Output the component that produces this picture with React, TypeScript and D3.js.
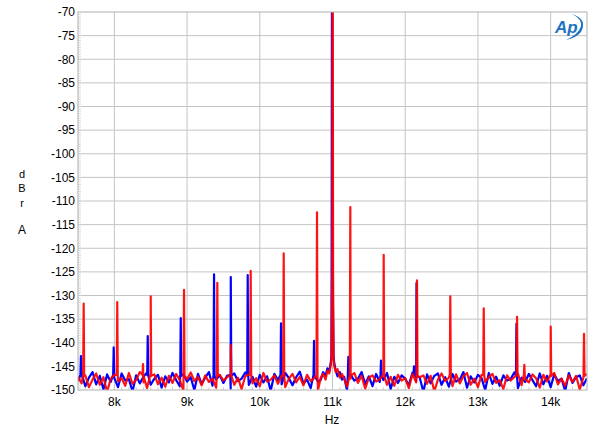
import React from "react";
import * as d3 from "d3";

// ---- data ----
const xTickValues = [8000, 9000, 10000, 11000, 12000, 13000, 14000];
const xTickLabels = ["8k", "9k", "10k", "11k", "12k", "13k", "14k"];
const yTickValues = [-70, -75, -80, -85, -90, -95, -100, -105, -110, -115, -120, -125, -130, -135, -140, -145, -150];

// noise floor, 50 Hz bins from 7500 Hz
const noiseStart = 7500;
const noiseStep = 50;
const redNoise = [
  -147.2,-148.6,-146.9,-149.4,-147.8,-146.5,-148.9,-147.3,-150.4,-147.6,
  -146.8,-148.2,-147.5,-149.1,-146.4,-148.7,-147.9,-146.2,-148.4,-149.6,
  -147.1,-146.7,-148.8,-147.4,-149.3,-147.0,-148.5,-146.6,-147.9,-150.2,
  -147.7,-146.3,-148.1,-147.2,-149.0,-146.9,-148.3,-147.6,-149.5,-146.8,
  -148.0,-147.3,-146.5,-148.9,-147.4,-149.8,-147.1,-146.7,-148.6,-147.5,
  -149.2,-146.4,-148.2,-147.8,-146.9,-148.7,-147.0,-149.4,-147.6,-146.6,
  -148.4,-147.2,-149.0,-146.8,-148.1,-147.5,-150.1,-147.3,-146.5,-148.8,
  -147.9,-146.7,-148.3,-147.1,-149.3,-147.6,-146.4,-148.5,-147.0,-149.7,
  -147.4,-146.9,-148.2,-147.7,-146.3,-148.9,-147.2,-149.1,-146.8,-148.0,
  -147.5,-149.6,-146.6,-148.4,-147.3,-146.9,-148.7,-147.0,-150.3,-147.8,
  -146.5,-148.1,-147.4,-149.2,-146.7,-148.6,-147.1,-146.4,-148.9,-147.6,
  -149.4,-146.8,-148.3,-147.2,-146.6,-148.5,-147.9,-149.8,-146.9,-148.0,
  -147.3,-146.5,-149.0,-147.7,-148.4,-146.7,-147.5,-149.5,-146.8,-148.2,
  -147.1,-146.4,-148.8,-147.6,-149.1,-146.9,-148.3,-147.0,-149.9,-147.4,
  -146.6,
];
const blueNoise = [
  -148.1,-146.6,-149.2,-147.4,-146.2,-148.8,-147.0,-149.9,-146.7,-148.3,
  -147.5,-149.4,-146.5,-148.0,-147.7,-150.3,-146.9,-148.6,-147.2,-146.3,
  -148.9,-147.6,-146.8,-149.5,-147.1,-148.4,-146.4,-147.9,-149.2,-146.7,
  -148.2,-147.3,-150.0,-146.6,-148.7,-147.4,-146.2,-149.1,-147.8,-146.9,
  -148.5,-147.0,-149.7,-146.5,-148.1,-147.6,-146.3,-148.9,-147.2,-149.3,
  -146.8,-148.4,-147.1,-150.2,-146.6,-147.9,-148.8,-146.4,-147.5,-149.0,
  -147.3,-146.1,-148.6,-147.8,-149.6,-146.7,-148.2,-147.0,-146.5,-149.4,
  -147.7,-148.9,-146.3,-147.4,-150.1,-146.8,-148.0,-147.6,-146.2,-148.7,
  -147.1,-149.2,-146.6,-148.3,-147.9,-146.4,-149.8,-147.2,-148.5,-146.9,
  -147.6,-149.0,-146.3,-148.1,-147.4,-150.4,-146.7,-148.6,-147.0,-146.5,
  -148.9,-147.3,-149.3,-146.6,-148.2,-147.8,-146.2,-149.5,-147.1,-148.4,
  -146.8,-147.5,-150.0,-146.4,-148.7,-147.2,-149.1,-146.9,-148.0,-147.7,
  -146.3,-149.6,-147.4,-148.3,-146.6,-147.9,-149.2,-146.5,-148.8,-147.0,
  -149.4,-146.7,-148.1,-147.6,-150.2,-146.4,-148.5,-147.3,-146.9,-149.0,
  -147.5,
];

// skirt around the 11 kHz fundamental
const skirtFreqs = [10840, 10870, 10905, 10930, 10955, 10975, 10985, 11015, 11025, 11045, 11070, 11100, 11130, 11160];
const redSkirt = [-147.3, -146.6, -147.8, -145.9, -146.5, -144.8, -143.4, -143.6, -145.0, -146.2, -145.6, -147.4, -146.6, -147.6];
const blueSkirt = [-147.8, -146.2, -147.0, -145.4, -146.0, -144.4, -142.8, -143.0, -144.4, -145.9, -147.1, -146.2, -147.8, -147.2];

// harmonic / IMD spikes
const redSpikeFreqs = [7578, 8040, 8394, 8500, 8958, 9416, 9601, 9875, 10329, 10787, 11002, 11245, 11704, 12162, 12620, 13080, 13538, 13638, 14001, 14459];
const redSpikeLevels = [-131.7, -131.4, -144.5, -130.2, -128.8, -127.3, -140.5, -124.8, -121.1, -112.4, -40, -111.3, -121.4, -126.8, -130.2, -132.7, -134.5, -144.7, -136.6, -138.1];
const blueSpikeFreqs = [7541, 7991, 8459, 8913, 9371, 9601, 9834, 10292, 10746, 10994, 11218, 11667, 12121, 12155, 13530];
const blueSpikeLevels = [-142.8, -141.0, -138.6, -134.8, -125.5, -126.1, -125.7, -135.9, -139.6, -40, -143.0, -143.8, -145.0, -127.4, -136.0];

// ---- layout ----
const W = 600, H = 436;
const L = 78, T = 12, R = 587, B = 390;

type Pt = [number, number];

function buildSeries(noise: number[], skirtVals: number[], spikeF: number[], spikeV: number[]): Pt[] {
  const pts: Pt[] = [];
  const sLo = skirtFreqs[0] - 20, sHi = skirtFreqs[skirtFreqs.length - 1] + 20;
  noise.forEach((v, i) => {
    const f = noiseStart + i * noiseStep;
    if (f < sLo || f > sHi) pts.push([f, v]);
  });
  skirtFreqs.forEach((f, i) => pts.push([f, skirtVals[i]]));
  spikeF.forEach((f, i) => {
    if (spikeV[i] > -60) {
      // fundamental: rises straight out of the skirt
      pts.push([f - 6, -125]);
      pts.push([f, spikeV[i]]);
      pts.push([f + 6, -125]);
      return;
    }
    pts.push([f - 7, -146.8]);
    pts.push([f, spikeV[i]]);
    pts.push([f + 7, -147.0]);
  });
  pts.sort((a, b) => a[0] - b[0]);
  return pts;
}

export default function App() {
  const x = d3.scaleLinear().domain([7500, 14500]).range([L, R]);
  const y = d3.scaleLinear().domain([-70, -150]).range([T, B]);
  const line = d3.line<Pt>().x(d => x(d[0])).y(d => y(d[1]));

  const red = buildSeries(redNoise, redSkirt, redSpikeFreqs, redSpikeLevels);
  const blue = buildSeries(blueNoise, blueSkirt, blueSpikeFreqs, blueSpikeLevels);

  const yMinor = d3.range(-150, -70, 0.5);
  const xMinor = d3.range(7600, 14500, 100);

  const font = "'Liberation Sans', Arial, sans-serif";
  const gridColor = "#c4c4c4";

  return (
    <svg width={W} height={H} style={{ position: "absolute", left: 0, top: 0, background: "#fff" }}>
      <defs>
        <clipPath id="plotclip">
          <rect x={L} y={T} width={R - L} height={B - T} />
        </clipPath>
      </defs>
      <rect x={0} y={0} width={W} height={H} fill="#fff" />
      {/* grid */}
      {yTickValues.slice(1, -1).map(v => (
        <line key={"gy" + v} x1={L} x2={R} y1={y(v)} y2={y(v)} stroke={gridColor} strokeWidth={1} />
      ))}
      {xTickValues.map(v => (
        <line key={"gx" + v} x1={x(v)} x2={x(v)} y1={T} y2={B} stroke={gridColor} strokeWidth={1} />
      ))}
      {/* minor ticks */}
      {yMinor.map(v => (
        <line key={"my" + v} x1={L} x2={L + 3} y1={y(v)} y2={y(v)} stroke="#d0d0d0" strokeWidth={0.8} />
      ))}
      {xMinor.map(v => (
        <line key={"mx" + v} x1={x(v)} x2={x(v)} y1={B} y2={B - 3} stroke="#c8c8c8" strokeWidth={0.8} />
      ))}
      {/* data */}
      <g clipPath="url(#plotclip)">
        <path d={line(blue) || ""} fill="none" stroke="#0000ff" strokeWidth={2.2} strokeLinejoin="round" />
        <path d={line(red) || ""} fill="none" stroke="#ff0000" strokeWidth={2.2} strokeLinejoin="round" strokeOpacity={0.92} />
      </g>
      {/* border */}
      <rect x={L} y={T} width={R - L} height={B - T} fill="none" stroke="#b0b0b0" strokeWidth={1} />
      {/* y tick labels */}
      {yTickValues.map(v => (
        <text key={"ly" + v} x={75} y={y(v)} dy="0.36em" textAnchor="end" fontFamily={font} fontSize={12} fill="#000">
          {v}
        </text>
      ))}
      {/* x tick labels */}
      {xTickValues.map((v, i) => (
        <text key={"lx" + v} x={x(v)} y={406} textAnchor="middle" fontFamily={font} fontSize={12} fill="#000">
          {xTickLabels[i]}
        </text>
      ))}
      <text x={332} y={424} textAnchor="middle" fontFamily={font} fontSize={12} fill="#000">Hz</text>
      {/* y title */}
      <text x={22} y={178} textAnchor="middle" fontFamily={font} fontSize={11}>d</text>
      <text x={22} y={192} textAnchor="middle" fontFamily={font} fontSize={11}>B</text>
      <text x={22} y={207} textAnchor="middle" fontFamily={font} fontSize={11}>r</text>
      <text x={22} y={234} textAnchor="middle" fontFamily={font} fontSize={12}>A</text>
      {/* Ap logo */}
      <g>
        <text x={555} y={33} fontFamily={font} fontSize={17} fontStyle="italic" fontWeight="bold" fill="#1f73c4">Ap</text>
        <path d="M 572 14 Q 588 19 581 32 Q 576 38 566 40 Q 579 34 581 26 Q 582 19 572 14 Z" fill="#1f73c4" />
      </g>
    </svg>
  );
}
